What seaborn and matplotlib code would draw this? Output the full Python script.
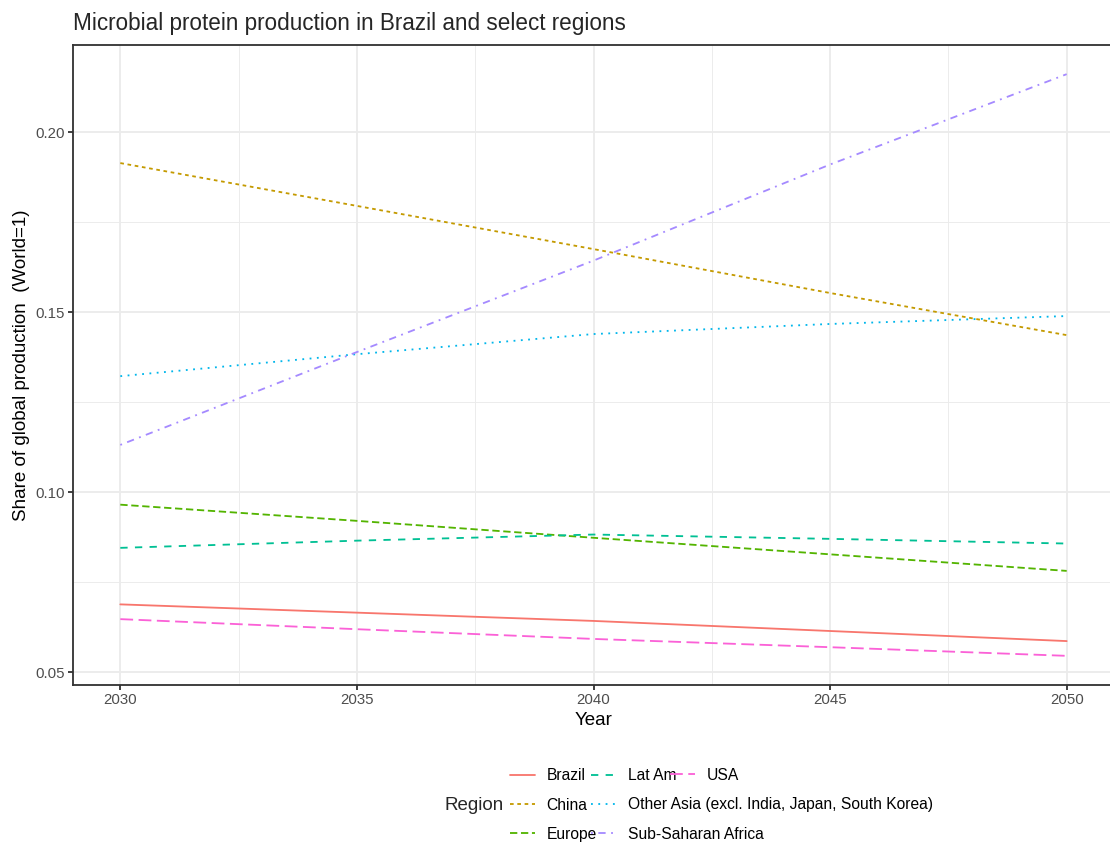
import pandas as pd
import seaborn as sns
import matplotlib.pyplot as plt
from matplotlib.ticker import MultipleLocator

# values
years = [2030, 2035, 2040, 2045, 2050]
regions = ['Brazil', 'China', 'Europe', 'Lat Am',
           'Other Asia (excl. India, Japan, South Korea)',
           'Sub-Saharan Africa', 'USA']
brazil = [0.0688, 0.0665, 0.0642, 0.0614, 0.0586]
china = [0.1914, 0.1795, 0.1675, 0.1553, 0.1436]
europe = [0.0965, 0.0920, 0.0873, 0.0827, 0.0781]
lat_am = [0.0845, 0.0865, 0.0882, 0.0870, 0.0857]
other_asia = [0.1322, 0.1383, 0.1439, 0.1467, 0.1489]
ssa = [0.1131, 0.1389, 0.1643, 0.1910, 0.2161]
usa = [0.0647, 0.0619, 0.0592, 0.0569, 0.0545]

series = [brazil, china, europe, lat_am, other_asia, ssa, usa]
df = pd.DataFrame([
    {'Year': y, 'Region': r, 'Share': v}
    for r, vals in zip(regions, series)
    for y, v in zip(years, vals)
])

colors = ['#F8766D', '#C49A00', '#53B400', '#00C094', '#00B6EB', '#A58AFF', '#FB61D7']
palette = dict(zip(regions, colors))
# ggplot default linetypes: solid, 22, 42, 44, 13, 1343, 73
dash_list = ['', (2, 2), (4, 2), (4, 4), (1, 3), (1, 3, 4, 3), (7, 3)]
dashes = dict(zip(regions, dash_list))

sns.set_style('white')
plt.rcParams['font.family'] = ['Liberation Sans', 'DejaVu Sans']

k = 1.23  # the reference was drawn at a larger scale than 100 dpi
lw = 1.07 * k

fig = plt.figure(figsize=(11.1, 8.43), dpi=100)
# panel runs slightly past the right edge of the image, as in the reference
ax = fig.add_axes([73 / 1110, 1 - 685 / 843, (1114 - 73) / 1110, (685 - 45) / 843])

sns.lineplot(data=df, x='Year', y='Share', hue='Region', style='Region',
             palette=palette, dashes=dashes, linewidth=lw, ax=ax, legend=True)

ax.set_xlim(2029, 2051)
ax.set_ylim(0.0464, 0.2242)
ax.xaxis.set_minor_locator(MultipleLocator(2.5))
ax.yaxis.set_minor_locator(MultipleLocator(0.025))
ax.set_yticks([0.05, 0.10, 0.15, 0.20])
ax.set_yticklabels(['0.05', '0.10', '0.15', '0.20'])
ax.set_xticks(years)
ax.set_xticklabels([str(y) for y in years])

ax.grid(which='major', color='#EBEBEB', linewidth=lw)
ax.grid(which='minor', color='#EBEBEB', linewidth=lw / 2)
ax.set_axisbelow(True)
for s in ax.spines.values():
    s.set_color('#333333')
    s.set_linewidth(lw)
ax.tick_params(which='major', length=2.75 * k, width=lw, color='#333333',
               labelcolor='#4D4D4D', labelsize=8.8 * k, bottom=True, left=True, pad=2.2 * k)
ax.tick_params(which='minor', length=0)

ax.set_xlabel('Year', fontsize=11 * k, color='black', labelpad=2.75 * k)
ax.set_ylabel('Share of global production  (World=1)', fontsize=11 * k, color='black',
              labelpad=2.75 * k)
ax.set_title('Microbial protein production in Brazil and select regions',
             fontsize=13.2 * k, loc='left', pad=10.5)

# legend laid out like ggplot's: title on the left, three columns of keys
handles, labels = ax.get_legend_handles_labels()
ax.get_legend().remove()
lookup = dict(zip(labels, handles))
cols = [(regions[0:3], 510, 805), (regions[3:6], 591, 805), (regions[6:7], 670, 775)]
kw = dict(frameon=False, fontsize=8.8 * k * 1.04, handlelength=1.6, handletextpad=0.75,
          labelspacing=0.92, borderpad=0, borderaxespad=0, loc='center left')
for names, xpix, ypix in cols:
    leg = fig.legend([lookup[n] for n in names], names,
                     bbox_to_anchor=(xpix / 1110, 1 - ypix / 843), **kw)
    for t in leg.get_texts():
        t.set_color('black')
fig.text(445 / 1110, 1 - 805 / 843, 'Region', fontsize=11 * k, va='center', ha='left')

plt.savefig('out.png', dpi=100)
